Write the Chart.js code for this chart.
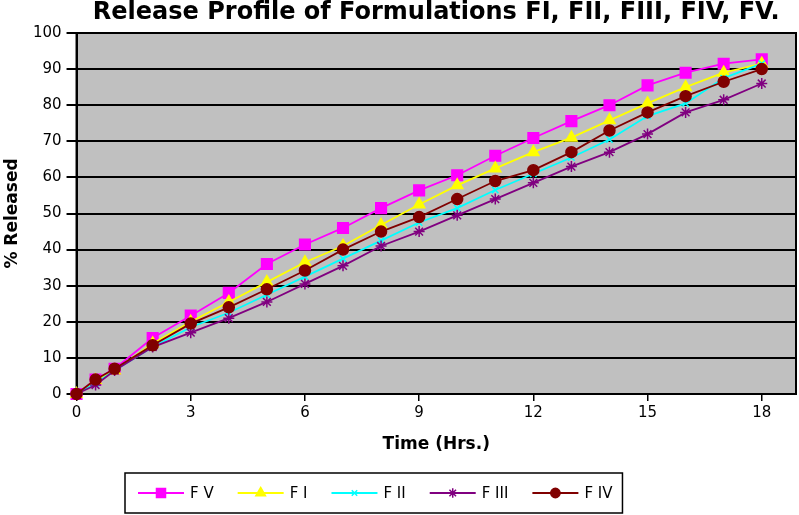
<!DOCTYPE html>
<html><head><meta charset="utf-8">
<script src="https://cdn.jsdelivr.net/npm/chart.js@4/dist/chart.umd.min.js"></script>
<style>html,body{margin:0;padding:0;background:#fff}#wrap{width:799px;height:515px}</style>
</head><body><div id="wrap"><canvas id="c" width="799" height="515"></canvas></div>
<script>
// ---- data ----
const titleText = 'Release Profile of Formulations FI, FII, FIII, FIV, FV.';
const times = [0, 0.5, 1, 2, 3, 4, 5, 6, 7, 8, 9, 10, 11, 12, 13, 14, 15, 16, 17, 18];
const fV   = [0, 4, 7, 15.5, 21.7, 28, 36, 41.4, 46, 51.5, 56.4, 60.6, 66, 70.9, 75.6, 80, 85.5, 89, 91.5, 92.7];
const fI   = [0, 3.8, 6.5, 14, 20, 25.5, 31, 36.5, 41, 46.8, 52.5, 57.8, 62.5, 67, 71, 75.8, 80.5, 85, 89, 91.5];
const fII  = [0, 3, 6.5, 13, 18.5, 22.5, 27.5, 32.5, 37.5, 42.5, 47.5, 51.5, 56.5, 61, 65.5, 70.5, 77, 80.5, 87.5, 91.5];
const fIII = [0, 2.5, 6.5, 13, 17, 21, 25.5, 30.5, 35.5, 41, 45, 49.5, 54, 58.5, 63, 67, 72, 78, 81.5, 86];
const fIV  = [0, 4, 7, 13.5, 19.5, 24, 29, 34.2, 40, 45, 49, 54, 59, 62, 67, 73, 78, 82.5, 86.5, 90];
const seriesLabels = ['F V', 'F I', 'F II', 'F III', 'F IV'];
const xTicks = [0, 3, 6, 9, 12, 15, 18];
const yTicks = [0, 10, 20, 30, 40, 50, 60, 70, 80, 90, 100];

const FONT = 'DejaVu Sans';
const pts = arr => times.map((t, i) => ({ x: t, y: arr[i] }));

function mkDs(label, arr, color, style, radius, order) {
  return {
    label, data: pts(arr), borderColor: color, backgroundColor: color,
    borderWidth: 1.8, pointStyle: style, pointRadius: radius,
    pointBackgroundColor: color, pointBorderColor: color, pointBorderWidth: 1.5,
    tension: 0, clip: false, order
  };
}

const plotBg = {
  id: 'plotBg',
  beforeDraw(chart) {
    const { ctx, chartArea: a } = chart;
    ctx.save();
    ctx.fillStyle = '#fff';
    ctx.fillRect(0, 0, chart.width, chart.height);
    ctx.fillStyle = '#C0C0C0';
    ctx.fillRect(a.left, a.top, a.right - a.left, a.bottom - a.top);
    ctx.restore();
  },
  beforeDatasetsDraw(chart) {
    const { ctx, chartArea: a } = chart;
    ctx.save();
    ctx.strokeStyle = '#000';
    ctx.lineWidth = 2;
    ctx.strokeRect(a.left, a.top, a.right - a.left, a.bottom - a.top);
    ctx.restore();
  }
};

const boxLegend = {
  id: 'boxLegend',
  afterDraw(chart, args, o) {
    const ctx = chart.ctx;
    ctx.save();
    ctx.font = o.size + 'px "' + FONT + '"';
    const cy = (o.top + o.bottom) / 2;
    let x = o.left + o.padLeft;
    const dsList = chart.data.datasets;
    dsList.forEach(ds => {
      ctx.strokeStyle = ds.borderColor;
      ctx.lineWidth = ds.borderWidth;
      ctx.beginPath();
      ctx.moveTo(x, cy);
      ctx.lineTo(x + o.lineLen, cy);
      ctx.stroke();
      ctx.fillStyle = ds.pointBackgroundColor;
      ctx.strokeStyle = ds.pointBorderColor;
      ctx.lineWidth = ds.pointBorderWidth;
      Chart.helpers.drawPoint(ctx, { pointStyle: ds.pointStyle, radius: ds.pointRadius * 0.85, rotation: 0, borderWidth: ds.pointBorderWidth }, x + o.lineLen / 2, cy);
      x += o.lineLen + o.textGap;
      ctx.fillStyle = '#000';
      ctx.textAlign = 'left';
      ctx.textBaseline = 'middle';
      ctx.fillText(ds.label, x, cy + 1);
      x += ctx.measureText(ds.label).width + o.itemGap;
    });
    const right = x - o.itemGap + o.padRight;
    ctx.strokeStyle = '#000';
    ctx.lineWidth = 1.5;
    ctx.strokeRect(o.left, o.top, right - o.left, o.bottom - o.top);
    ctx.restore();
  }
};

new Chart(document.getElementById('c'), {
  type: 'line',
  data: {
    datasets: [
      mkDs(seriesLabels[0], fV, '#FF00FF', 'rect', 7.5, 5),
      mkDs(seriesLabels[1], fI, '#FFFF00', 'triangle', 6.5, 4),
      mkDs(seriesLabels[2], fII, '#00FFFF', 'crossRot', 4.5, 3),
      mkDs(seriesLabels[3], fIII, '#800080', 'star', 5.5, 2),
      mkDs(seriesLabels[4], fIV, '#800000', 'circle', 5.5, 1)
    ]
  },
  options: {
    responsive: false,
    animation: false,
    layout: { autoPadding: false, padding: { left: 0, right: 3, top: 0, bottom: 60 } },
    plugins: {
      legend: { display: false },
      tooltip: { enabled: false },
      title: {
        display: true, text: titleText, fullSize: false, color: '#000',
        font: { family: FONT, size: 24, weight: 'bold', lineHeight: 1 },
        padding: { top: 1, bottom: 8 }
      },
      boxLegend: { left: 125, top: 473, bottom: 513, padLeft: 13, padRight: 10, lineLen: 46, textGap: 6, itemGap: 24, size: 15 }
    },
    scales: {
      x: {
        type: 'linear', min: 0, max: 18.9,
        afterBuildTicks: ax => { ax.ticks = xTicks.map(v => ({ value: v })); },
        afterFit: ax => { ax.paddingRight = 0; ax.paddingLeft = 0; },
        grid: { drawOnChartArea: false, color: '#000', tickLength: 7, lineWidth: 1.5 },
        border: { color: '#000', width: 2 },
        ticks: { color: '#000', font: { family: FONT, size: 15 }, padding: 3, maxRotation: 0, autoSkip: false },
        title: { display: true, text: 'Time (Hrs.)', color: '#000', font: { family: FONT, size: 17, weight: 'bold' }, padding: { top: 9.6, bottom: 0 } }
      },
      y: {
        type: 'linear', min: 0, max: 100,
        afterBuildTicks: ax => { ax.ticks = yTicks.map(v => ({ value: v })); },
        grid: { color: '#000', lineWidth: 2, tickLength: 10 },
        border: { color: '#000', width: 2 },
        ticks: { color: '#000', font: { family: FONT, size: 15 }, padding: 5 },
        title: { display: true, text: '% Released', color: '#000', font: { family: FONT, size: 17, weight: 'bold' }, padding: { top: 2.3, bottom: 5.2 } }
      }
    }
  },
  plugins: [plotBg, boxLegend]
});
</script>
</body></html>
